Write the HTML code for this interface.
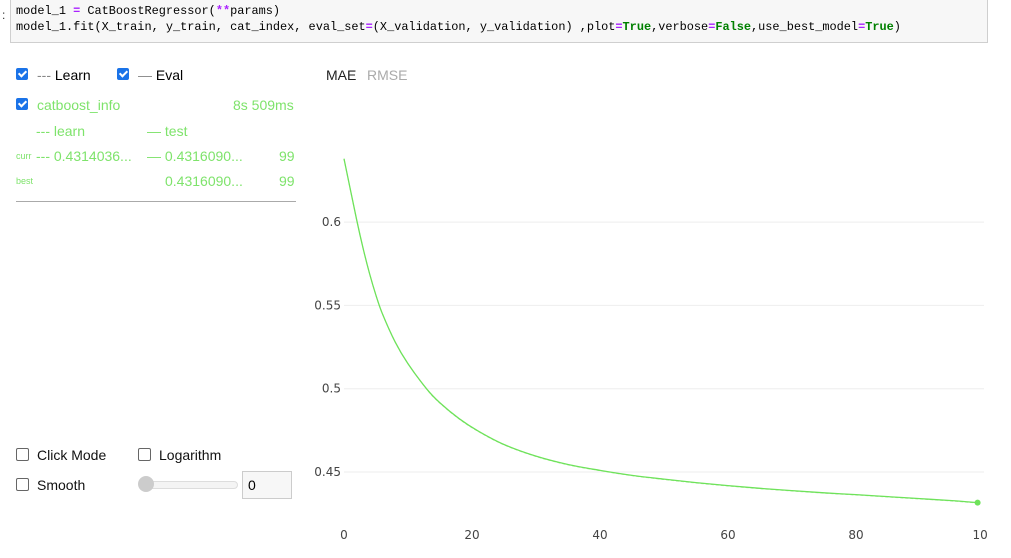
<!DOCTYPE html>
<html><head><meta charset="utf-8"><style>
body{margin:0;width:1011px;height:558px;background:#fff;position:relative;overflow:hidden;font-family:"Liberation Sans",sans-serif;}
.abs{position:absolute;white-space:nowrap;}
#code{left:10px;top:-2px;width:976px;height:43px;background:#f7f7f7;border:1px solid #cfcfcf;}
#code pre{margin:0;position:absolute;left:5px;top:4px;font-family:"Liberation Mono",monospace;font-size:11.9px;line-height:16px;color:#000;}
.op{color:#aa22ff;font-weight:bold}.kw{color:#008000;font-weight:bold}
.cb{position:absolute;width:12px;height:12px;border-radius:2px;}
.cb.on{background:#1a73e8;}
.cb.on:after{content:"";position:absolute;left:4px;top:1px;width:3px;height:6px;border:solid #fff;border-width:0 2px 2px 0;transform:rotate(45deg);}
.cb.off{border:1px solid #666;background:#fff;width:11px;height:11px;}
.g{color:#7ee36b;}
.t14{font-size:14px;}
</style></head><body>
<div id="code" class="abs"><pre>model_1 <span class="op">=</span> CatBoostRegressor(<span class="op">**</span>params)
model_1.fit(X_train, y_train, cat_index, eval_set<span class="op">=</span>(X_validation, y_validation) ,plot<span class="op">=</span><span class="kw">True</span>,verbose<span class="op">=</span><span class="kw">False</span>,use_best_model<span class="op">=</span><span class="kw">True</span>)</pre></div>
<div class="abs" style="left:2px;top:8px;font-size:12px;color:#333">:</div>

<div class="cb on" style="left:16px;top:68px"></div>
<div class="abs t14" style="left:37px;top:67px;color:#000"><span style="color:#888">---</span> Learn</div>
<div class="cb on" style="left:117px;top:68px"></div>
<div class="abs t14" style="left:138px;top:67px;color:#000"><span style="color:#888">—</span> Eval</div>
<div class="abs t14" style="left:326px;top:67px;color:#222">MAE</div>
<div class="abs t14" style="left:367px;top:67px;color:#aaa">RMSE</div>

<div class="cb on" style="left:16px;top:98px"></div>
<div class="abs t14 g" style="left:37px;top:97px">catboost_info</div>
<div class="abs t14 g" style="left:233px;top:97px">8s 509ms</div>
<div class="abs t14 g" style="left:36px;top:123px">--- learn</div>
<div class="abs t14 g" style="left:147px;top:123px">— test</div>
<div class="abs g" style="left:16px;top:151px;font-size:9px">curr</div>
<div class="abs t14 g" style="left:36px;top:148px">--- 0.4314036...</div>
<div class="abs t14 g" style="left:147px;top:148px">— 0.4316090...</div>
<div class="abs t14 g" style="left:279px;top:148px">99</div>
<div class="abs g" style="left:16px;top:176px;font-size:9px">best</div>
<div class="abs t14 g" style="left:165px;top:173px">0.4316090...</div>
<div class="abs t14 g" style="left:279px;top:173px">99</div>
<div class="abs" style="left:16px;top:201px;width:280px;height:1px;background:#aaa"></div>

<div class="cb off" style="left:16px;top:448px"></div>
<div class="abs t14" style="left:37px;top:447px;color:#111">Click Mode</div>
<div class="cb off" style="left:138px;top:448px"></div>
<div class="abs t14" style="left:159px;top:447px;color:#111">Logarithm</div>
<div class="cb off" style="left:16px;top:478px"></div>
<div class="abs t14" style="left:37px;top:477px;color:#111">Smooth</div>
<div class="abs" style="left:139px;top:481px;width:97px;height:6px;border:1px solid #ddd;border-radius:4px;background:#f4f4f4"></div>
<div class="abs" style="left:138px;top:476px;width:16px;height:16px;border-radius:50%;background:#ccc"></div>
<div class="abs" style="left:242px;top:471px;width:48px;height:26px;border:1px solid #ccc;background:#f7f7f7;font-size:14px;line-height:26px;text-indent:5px">0</div>

<svg class="abs" style="left:0;top:0" width="1011" height="558">
<defs><clipPath id="xc"><rect x="300" y="500" width="688" height="58"/></clipPath></defs>
<g id="grid"></g><g id="ylab"></g><g id="xlab" clip-path="url(#xc)"></g><g id="series"></g>
</svg>
<script>
const iterations=[0,2,3,4,5,6,8,10,13,15,18,21,25,30,35,40,45,50,55,60,65,70,75,80,85,90,95,99];
const testValues=[0.638,0.601,0.584,0.569,0.556,0.545,0.528,0.515,0.4995,0.4915,0.482,0.4745,0.4665,0.4595,0.4545,0.451,0.448,0.4457,0.4436,0.4418,0.4402,0.4388,0.4375,0.4364,0.4352,0.4340,0.4328,0.4316];
const learnValues=[0.638,0.601,0.584,0.569,0.556,0.545,0.528,0.515,0.4993,0.4913,0.4818,0.4743,0.4663,0.4593,0.4543,0.4508,0.4478,0.4455,0.4434,0.4416,0.4400,0.4386,0.4373,0.4362,0.4350,0.4338,0.4326,0.4314];
const yTicks=[0.45,0.5,0.55,0.6];
const xTicks=[0,20,40,60,80,100];
const X=v=>344+v*6.4, Y=v=>472-(v-0.45)*1666;
const NS="http://www.w3.org/2000/svg";
function mk(t,a,p){const e=document.createElementNS(NS,t);for(const k in a)e.setAttribute(k,a[k]);p.appendChild(e);return e;}
const grid=document.getElementById('grid'),yl=document.getElementById('ylab'),xl=document.getElementById('xlab'),sr=document.getElementById('series');
yTicks.forEach(t=>{
 const l=mk('line',{x1:344,x2:984,y1:Y(t),y2:Y(t),stroke:'#eee','stroke-width':1},grid);
 
 
 const tx=mk('text',{x:341,y:Y(t)+4,'text-anchor':'end','font-size':12,fill:'#444','font-family':'DejaVu Sans, sans-serif'},yl);
 tx.textContent=String(t);
 
 
});
xTicks.forEach(t=>{
 const tx=mk('text',{x:X(t),y:539,'text-anchor':'middle','font-size':12,fill:'#444','font-family':'DejaVu Sans, sans-serif'},xl);
 tx.textContent=String(t);
 
 
});
function smooth(a){
 const p=iterations.map((it,i)=>[X(it),Y(a[i])]);
 let d='M'+p[0][0]+','+p[0][1];
 for(let i=0;i<p.length-1;i++){
  const p0=p[Math.max(0,i-1)],p1=p[i],p2=p[i+1],p3=p[Math.min(p.length-1,i+2)];
  const c1=[p1[0]+(p2[0]-p0[0])/6,p1[1]+(p2[1]-p0[1])/6];
  const c2=[p2[0]-(p3[0]-p1[0])/6,p2[1]-(p3[1]-p1[1])/6];
  d+=' C'+c1.join(',')+' '+c2.join(',')+' '+p2.join(',');
 }
 return d;
}
const pl=mk('path',{d:smooth(learnValues),fill:'none',stroke:'#a8ee98','stroke-width':1,'stroke-dasharray':'3,2'},sr);


const pt=mk('path',{d:smooth(testValues),fill:'none',stroke:'#6ee25a','stroke-width':1.3},sr);


const n=iterations.length-1;
const c=mk('circle',{cx:X(iterations[n]),cy:Y(testValues[n]),r:3,fill:'#6ee25a'},sr);


</script>
</body></html>
